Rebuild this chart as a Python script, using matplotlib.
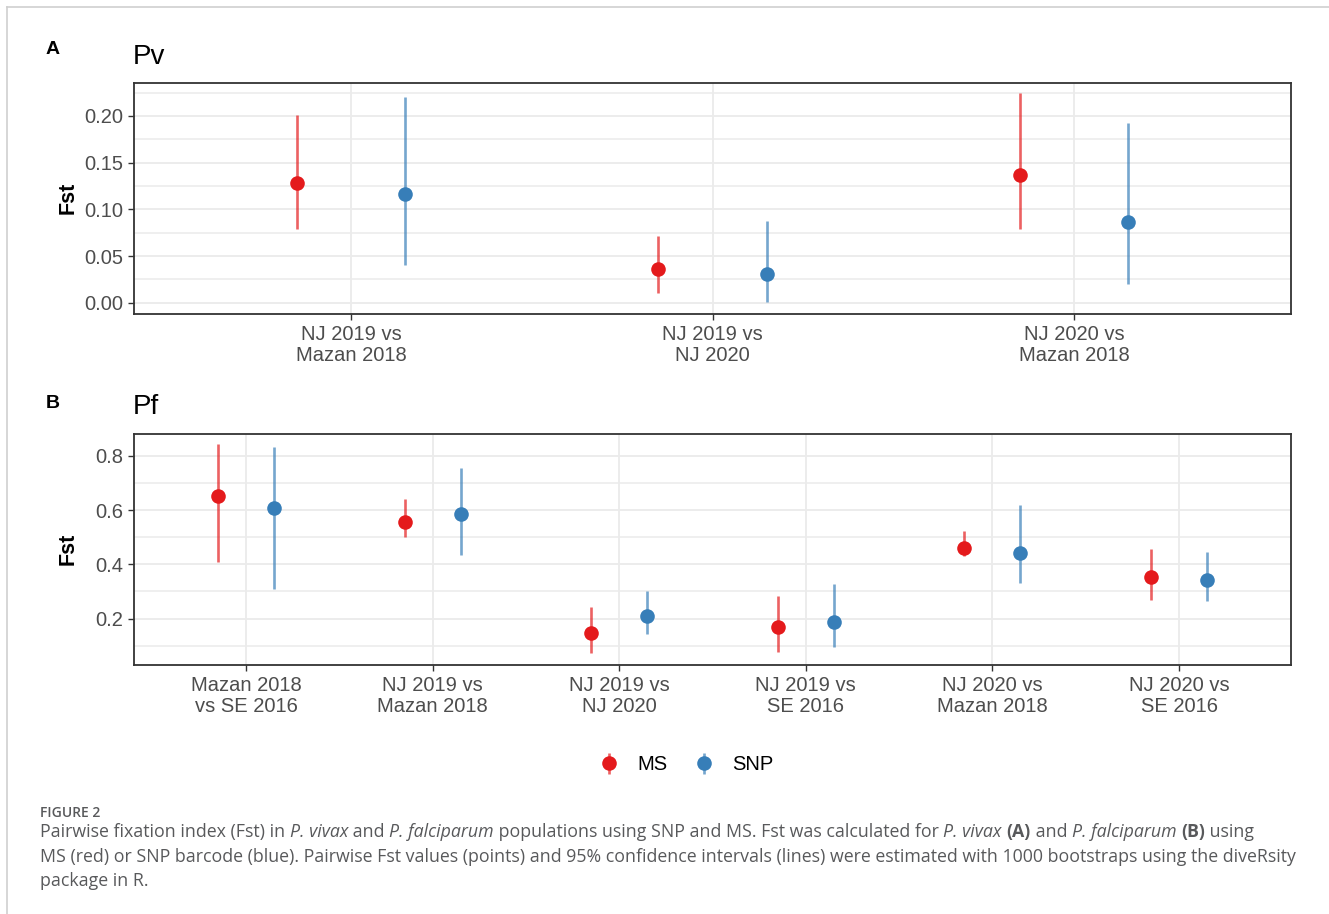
import numpy as np
import matplotlib.pyplot as plt
from matplotlib.lines import Line2D

# Pairwise Fst estimates and 95% bootstrap CIs
pv_pairs = ["NJ 2019 vs\nMazan 2018", "NJ 2019 vs\nNJ 2020", "NJ 2020 vs\nMazan 2018"]
pv_ms = [0.128, 0.036, 0.137]
pv_ms_lo = [0.079, 0.010, 0.079]
pv_ms_hi = [0.201, 0.071, 0.225]
pv_snp = [0.116, 0.031, 0.086]
pv_snp_lo = [0.040, 0.001, 0.020]
pv_snp_hi = [0.220, 0.087, 0.192]

pf_pairs = ["Mazan 2018\nvs SE 2016", "NJ 2019 vs\nMazan 2018", "NJ 2019 vs\nNJ 2020",
            "NJ 2019 vs\nSE 2016", "NJ 2020 vs\nMazan 2018", "NJ 2020 vs\nSE 2016"]
pf_ms = [0.651, 0.555, 0.146, 0.170, 0.461, 0.354]
pf_ms_lo = [0.410, 0.500, 0.075, 0.078, 0.429, 0.269]
pf_ms_hi = [0.844, 0.641, 0.244, 0.284, 0.521, 0.456]
pf_snp = [0.609, 0.586, 0.211, 0.187, 0.443, 0.343]
pf_snp_lo = [0.309, 0.435, 0.143, 0.097, 0.330, 0.263]
pf_snp_hi = [0.832, 0.754, 0.302, 0.328, 0.617, 0.445]

RED = "#E41A1C"
BLUE = "#377EB8"
GRID = "#EBEBEB"
DARK = "#333333"
TICKTXT = "#4D4D4D"

plt.rcParams["font.family"] = ["Liberation Sans", "DejaVu Sans"]

W, H = 1329, 914
fig = plt.figure(figsize=(W / 100, H / 100), dpi=100)


def px_axes(left, top, right, bottom):
    return fig.add_axes([left / W, 1 - bottom / H, (right - left) / W, (bottom - top) / H])


def pointrange(ax, x, y, lo, hi, color):
    y = np.asarray(y)
    err = [y - np.asarray(lo), np.asarray(hi) - y]
    return ax.errorbar(x, y, yerr=err, fmt="o", color=color, ms=10.5, mew=0,
                       ecolor=color + "B0", elinewidth=1.9, capsize=0, zorder=3)


def panel(ax, pairs, ms, ms_lo, ms_hi, snp, snp_lo, snp_hi, ylim, major, minor, fmt):
    x = np.arange(1, len(pairs) + 1)
    h_ms = pointrange(ax, x - 0.15, ms, ms_lo, ms_hi, RED)
    h_snp = pointrange(ax, x + 0.15, snp, snp_lo, snp_hi, BLUE)
    ax.set_xlim(0.4, len(pairs) + 0.6)
    ax.set_ylim(*ylim)
    ax.set_xticks(x)
    ax.set_xticklabels(pairs, linespacing=1.15)
    ax.set_yticks(major)
    ax.set_yticks(minor, minor=True)
    ax.yaxis.set_major_formatter(plt.FormatStrFormatter(fmt))
    ax.grid(True, which="major", color=GRID, lw=1.3, zorder=0)
    ax.grid(True, which="minor", axis="y", color=GRID, lw=1.1, zorder=0)
    ax.set_axisbelow(True)
    for s in ax.spines.values():
        s.set_color(DARK)
        s.set_linewidth(1.3)
    ax.tick_params(which="major", length=4, width=1.0, color=DARK,
                   labelsize=14.5, labelcolor=TICKTXT, pad=4)
    ax.tick_params(which="minor", length=0)
    return h_ms, h_snp


ax_a = px_axes(134, 83, 1291, 314)
panel(ax_a, pv_pairs, pv_ms, pv_ms_lo, pv_ms_hi, pv_snp, pv_snp_lo, pv_snp_hi,
      (-0.0121, 0.2353), [0, 0.05, 0.10, 0.15, 0.20],
      [0.025, 0.075, 0.125, 0.175, 0.225], "%.2f")

ax_b = px_axes(134, 434, 1291, 665)
h_ms, h_snp = panel(ax_b, pf_pairs, pf_ms, pf_ms_lo, pf_ms_hi, pf_snp, pf_snp_lo, pf_snp_hi,
                    (0.029, 0.880), [0.2, 0.4, 0.6, 0.8], [0.1, 0.3, 0.5, 0.7], "%.1f")

# panel letters, titles and y labels
fig.text(46 / W, 1 - 50 / H, "A", fontsize=14, fontweight="bold", va="center")
fig.text(46 / W, 1 - 403 / H, "B", fontsize=14, fontweight="bold", va="center")
fig.text(133 / W, 1 - 57 / H, "Pv", fontsize=20, va="center")
fig.text(133 / W, 1 - 407 / H, "Pf", fontsize=20, va="center")
fig.text(68 / W, 1 - 198 / H, "Fst", fontsize=15.5, fontweight="bold", rotation=90,
         ha="center", va="center")
fig.text(68 / W, 1 - 549 / H, "Fst", fontsize=15.5, fontweight="bold", rotation=90,
         ha="center", va="center")

leg = fig.legend([h_ms, h_snp], ["MS", "SNP"], ncol=2, frameon=False,
                 loc="center", bbox_to_anchor=(686 / W, 1 - 765 / H),
                 fontsize=14.5, handlelength=1.0, handletextpad=0.9, columnspacing=1.3)

# light page frame
fig.add_artist(Line2D([7 / W, 7 / W], [0, 1 - 7 / H], color="#CFCFCF", lw=1.2))
fig.add_artist(Line2D([7 / W, 1], [1 - 7 / H, 1 - 7 / H], color="#CFCFCF", lw=1.2))

# caption, drawn run by run so italic/bold pieces line up
CAP = "#58595B"
cap_font = ["Open Sans", "DejaVu Sans"]
fig.text(40 / W, 1 - 813 / H, "FIGURE 2", fontsize=10, fontweight="semibold",
         color=CAP, family=cap_font, va="center")

lines = [
    [("Pairwise fixation index (Fst) in ", "normal", "normal"),
     ("P. vivax", "italic", "normal"), (" and ", "normal", "normal"),
     ("P. falciparum", "italic", "normal"),
     (" populations using SNP and MS. Fst was calculated for ", "normal", "normal"),
     ("P. vivax", "italic", "normal"), (" ", "normal", "normal"),
     ("(A)", "normal", "bold"), (" and ", "normal", "normal"),
     ("P. falciparum", "italic", "normal"), (" ", "normal", "normal"),
     ("(B)", "normal", "bold"), (" using", "normal", "normal")],
    [("MS (red) or SNP barcode (blue). Pairwise Fst values (points) and 95% confidence "
      "intervals (lines) were estimated with 1000 bootstraps using the diveRsity",
      "normal", "normal")],
    [("package in R.", "normal", "normal")],
]
line_y = [832, 857, 881]

fig.canvas.draw()
renderer = fig.canvas.get_renderer()
for runs, yy in zip(lines, line_y):
    x = 40
    for txt, style, weight in runs:
        t = fig.text(x / W, 1 - yy / H, txt, fontsize=12.8, color=CAP, family=cap_font,
                     style=style, fontweight=weight, va="center")
        bb = t.get_window_extent(renderer)
        x += bb.width

fig.savefig("out.png", dpi=100)
